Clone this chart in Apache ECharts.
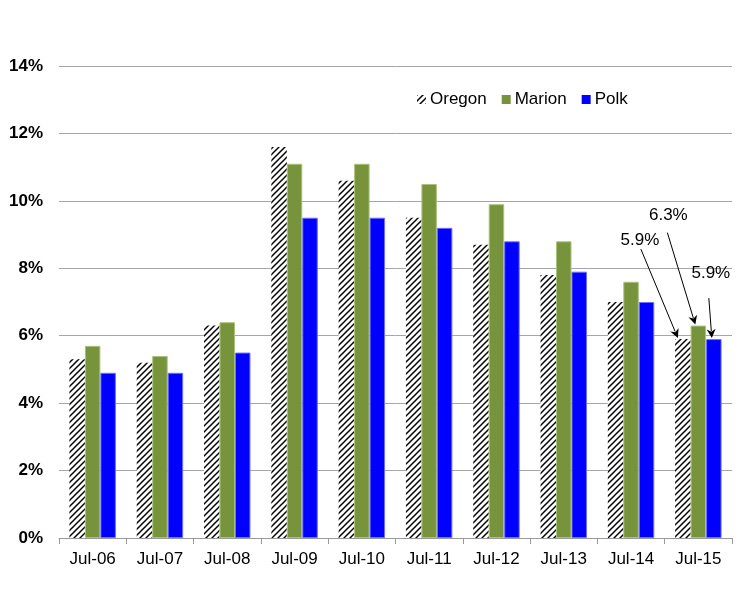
<!DOCTYPE html>
<html><head><meta charset="utf-8">
<script src="https://cdn.jsdelivr.net/npm/echarts@6/dist/echarts.min.js"></script>
<style>html,body{margin:0;padding:0;background:#fff}#c{width:742px;height:592px}</style>
</head><body><div id="c"></div>
<script>
var categories = ['Jul-06','Jul-07','Jul-08','Jul-09','Jul-10','Jul-11','Jul-12','Jul-13','Jul-14','Jul-15'];
var oregon = [5.3, 5.2, 6.3, 11.6, 10.6, 9.5, 8.7, 7.8, 7.0, 5.9];
var marion = [5.7, 5.4, 6.4, 11.1, 11.1, 10.5, 9.9, 8.8, 7.6, 6.3];
var polk   = [4.9, 4.9, 5.5, 9.5, 9.5, 9.2, 8.8, 7.9, 7.0, 5.9];
var seriesNames = ['Oregon','Marion','Polk'];
var annotIndex = 9;

// hatch pattern
var pc = document.createElement('canvas');
pc.width = 6; pc.height = 6;
var g = pc.getContext('2d');
g.fillStyle = '#fff'; g.fillRect(0,0,6,6);
g.strokeStyle = '#000'; g.lineWidth = 1.5;
for (var k = -1; k <= 1; k++) {
  g.beginPath(); g.moveTo(k*6 - 1, 7); g.lineTo(k*6 + 7, -1); g.stroke();
}
var hatch = {image: pc, repeat: 'repeat'};

var FONT = 'Liberation Sans, Arial, sans-serif';
var chart = echarts.init(document.getElementById('c'), null, {renderer: 'canvas'});
var option = {
  animation: false,
  backgroundColor: '#fff',
  grid: {left: 59, right: 10, top: 66, bottom: 54, containLabel: false},
  legend: {
    data: seriesNames,
    left: 417, top: 91, padding: 0,
    itemWidth: 9, itemHeight: 9, itemGap: 15,
    icon: 'rect',
    itemStyle: {borderWidth: 0},
    textStyle: {fontFamily: FONT, fontSize: 17, color: '#000', padding: [0,0,0,-1]}
  },
  xAxis: {
    type: 'category', data: categories,
    axisLine: {lineStyle: {color: '#999', width: 1}},
    axisTick: {show: true, length: 6, lineStyle: {color: '#999'}},
    axisLabel: {fontFamily: FONT, fontSize: 17, color: '#000', margin: 13}
  },
  yAxis: {
    type: 'value', min: 0, max: 14, interval: 2,
    axisLine: {show: false}, axisTick: {show: false},
    splitLine: {lineStyle: {color: '#a6a6a6', width: 1}},
    axisLabel: {fontFamily: FONT, fontSize: 17, fontWeight: 'bold', color: '#000', margin: 16,
      formatter: function(v){ return v + '%'; }}
  },
  series: [
    {name: 'Oregon', type: 'bar', data: oregon, barGap: '0%', barCategoryGap: '31%',
     itemStyle: {color: hatch}},
    {name: 'Marion', type: 'bar', data: marion, barGap: '0%', barCategoryGap: '31%',
     itemStyle: {color: '#77933C', borderColor: '#a9c27e', borderWidth: 1}},
    {name: 'Polk', type: 'bar', data: polk, barGap: '0%', barCategoryGap: '31%',
     itemStyle: {color: '#0000FF', borderColor: '#6f6fff', borderWidth: 1}}
  ]
};
chart.setOption(option);

// annotations with arrows pointing to Jul-15 bars
function barTop(si, idx, val) {
  var data = chart.getModel().getSeriesByIndex(si).getData();
  var L = data.getItemLayout(idx);
  if (L) return [L.x + L.width/2, Math.min(L.y, L.y + L.height)];
  return chart.convertToPixel({gridIndex: 0}, [idx, val]);
}
var vals = [oregon[annotIndex], marion[annotIndex], polk[annotIndex]];
var offs = [
  {text: [-43, -99], start: [-42, -90], end: [-5, -1]},
  {text: [-30, -110], start: [-31, -93], end: [-3, -1]},
  {text: [-3, -66], start: [-5, -41], end: [-2, -1]}
];
var elements = [];
for (var s = 0; s < 3; s++) {
  var p = barTop(s, annotIndex, vals[s]);
  var o = offs[s];
  var tx = p[0] + o.text[0], ty = p[1] + o.text[1];
  elements.push({type: 'text', x: tx, y: ty, style: {text: vals[s].toFixed(1) + '%', font: '17px ' + FONT, fill: '#000', align: 'center', verticalAlign: 'middle'}, z: 100});
  var x1 = p[0] + o.start[0], y1 = p[1] + o.start[1];
  var x2 = p[0] + o.end[0], y2 = p[1] + o.end[1];
  var dx = x2 - x1, dy = y2 - y1, len = Math.sqrt(dx*dx + dy*dy);
  var ux = dx/len, uy = dy/len;
  var hl = 9, hw = 4.5;
  var bx = x2 - ux*hl, by = y2 - uy*hl;
  elements.push({type: 'line', shape: {x1: x1, y1: y1, x2: bx + ux*2, y2: by + uy*2}, style: {stroke: '#000', lineWidth: 1}, z: 100});
  elements.push({type: 'polygon', shape: {points: [[x2, y2], [bx - uy*hw, by + ux*hw], [x2 - ux*hl*0.7, y2 - uy*hl*0.7], [bx + uy*hw, by - ux*hw]]}, style: {fill: '#000'}, z: 100});
}
chart.setOption({graphic: {elements: elements}});
</script>
</body></html>
